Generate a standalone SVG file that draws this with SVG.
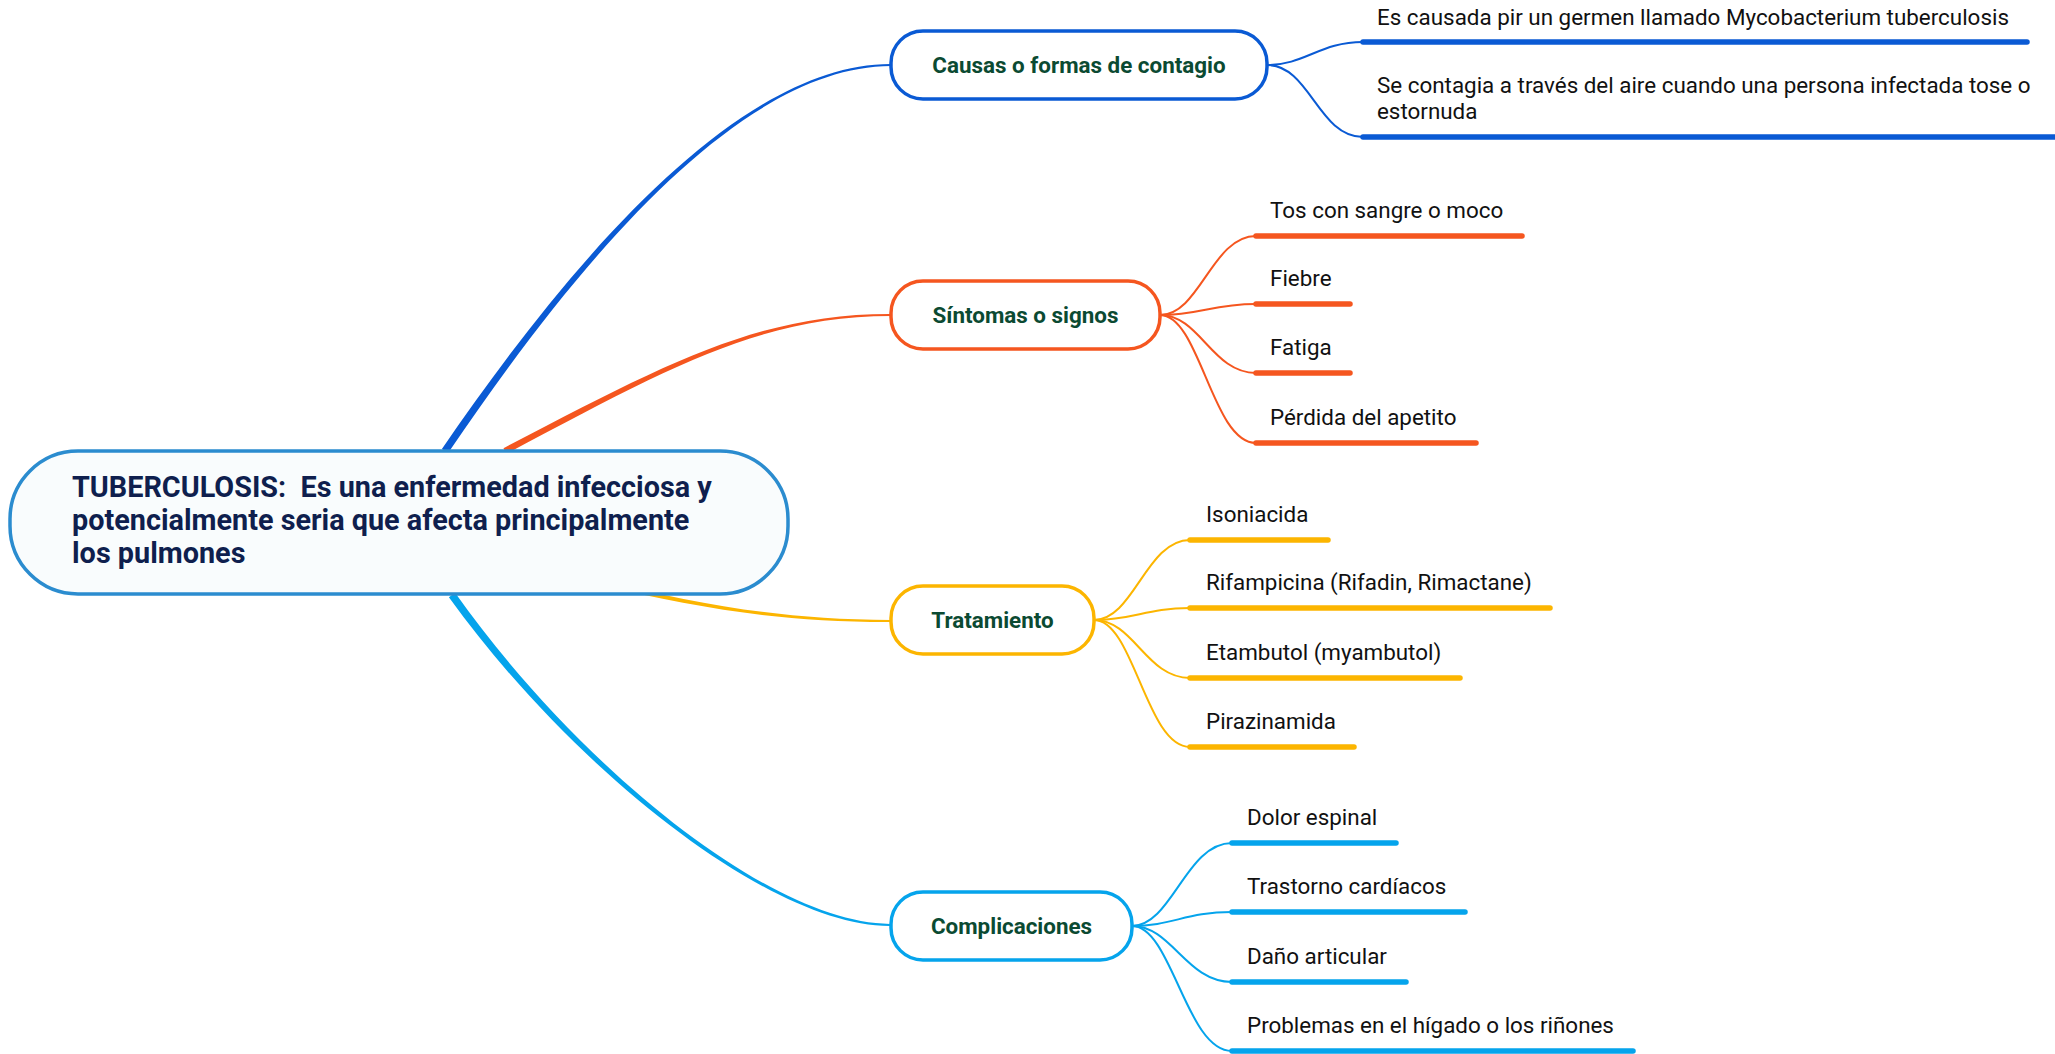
<svg xmlns="http://www.w3.org/2000/svg" width="2055" height="1054" viewBox="0 0 2055 1054">
<style>
.bg{fill:#ffffff}
.root{fill:#f9fcfd;stroke:#2b8ccf;stroke-width:3.5}
.node{fill:#ffffff;stroke-width:3.5}
.rtext{font-family:Roboto,"Liberation Sans",sans-serif;font-weight:bold;font-size:28.8px;fill:#0f1f4e}
.ntext{font-family:Roboto,"Liberation Sans",sans-serif;font-weight:bold;font-size:22.4px;fill:#0b4a32;text-anchor:middle}
.ltext{font-family:Roboto,"Liberation Sans",sans-serif;font-size:22.4px;fill:#111111}
.sub{fill:none;stroke-width:2}
.ul{fill:none;stroke-width:5.5;stroke-linecap:round}
.blue{stroke:#0a5ad4}
.orange{stroke:#f5561f}
.yellow{stroke:#fcb500}
.sky{stroke:#05a4ec}
</style>
<rect class="bg" x="0" y="0" width="2055" height="1054"/>
<g id="connectors">
  <path fill="#0a5ad4" d="M448.1,453.1 C579.5,258.7 741,66.5 891,66.1 L891,63.9 C741,63.5 574.5,255.3 441.9,448.9 Z"/>
  <path fill="#f5561f" d="M506.5,453.8 C671.2,366.3 761,316.5 891,316.1 L891,313.9 C761,313.5 668.8,361.7 503.5,448.2 Z"/>
  <path fill="#fcb500" d="M599.5,585.3 C699.6,608 780,622.3 891,622 L891,620 C780,619.7 700.4,604.1 600.5,580.7 Z"/>
  <path fill="#05a4ec" d="M448.9,597.2 C571.6,767.7 770,926.5 890,926.1 L890,923.9 C770,923.5 576.4,764.3 455.1,592.8 Z"/>

  <path class="sub blue" d="M1267,65 C1305,65 1320,42 1363,42"/>
  <path class="sub blue" d="M1267,65 C1310,65 1318,137 1363,137"/>
  <path class="ul blue" d="M1363,42 H2027"/>
  <path class="ul blue" d="M1363,137 H2060"/>

  <path class="sub orange" d="M1160,315 C1200,315 1212,236 1256,236"/>
  <path class="sub orange" d="M1160,315 C1200,315 1212,304 1256,304"/>
  <path class="sub orange" d="M1160,315 C1200,315 1212,373 1256,373"/>
  <path class="sub orange" d="M1160,315 C1200,315 1212,443 1256,443"/>
  <path class="ul orange" d="M1256,236 H1522"/>
  <path class="ul orange" d="M1256,304 H1350"/>
  <path class="ul orange" d="M1256,373 H1350"/>
  <path class="ul orange" d="M1256,443 H1476"/>

  <path class="sub yellow" d="M1094,620 C1134,620 1146,540 1190,540"/>
  <path class="sub yellow" d="M1094,620 C1134,620 1146,608 1190,608"/>
  <path class="sub yellow" d="M1094,620 C1134,620 1146,678 1190,678"/>
  <path class="sub yellow" d="M1094,620 C1134,620 1146,747 1190,747"/>
  <path class="ul yellow" d="M1190,540 H1328"/>
  <path class="ul yellow" d="M1190,608 H1550"/>
  <path class="ul yellow" d="M1190,678 H1460"/>
  <path class="ul yellow" d="M1190,747 H1354"/>

  <path class="sub sky" d="M1132,926 C1172,926 1186,843 1232,843"/>
  <path class="sub sky" d="M1132,926 C1172,926 1186,912 1232,912"/>
  <path class="sub sky" d="M1132,926 C1172,926 1186,982 1232,982"/>
  <path class="sub sky" d="M1132,926 C1172,926 1186,1051 1232,1051"/>
  <path class="ul sky" d="M1232,843 H1396"/>
  <path class="ul sky" d="M1232,912 H1465"/>
  <path class="ul sky" d="M1232,982 H1406"/>
  <path class="ul sky" d="M1232,1051 H1633"/>
</g>

<g id="root">
  <rect class="root" x="10" y="451" width="778" height="143" rx="68" ry="68"/>
  <text class="rtext" x="72" y="497" xml:space="preserve">TUBERCULOSIS:  Es una enfermedad infecciosa y</text>
  <text class="rtext" x="72" y="530">potencialmente seria que afecta principalmente</text>
  <text class="rtext" x="72" y="563">los pulmones</text>
</g>

<g id="causas">
  <rect class="node blue" x="891" y="31" width="376" height="68" rx="32" ry="32"/>
  <text class="ntext" x="1079" y="73">Causas o formas de contagio</text>
</g>
<g id="sintomas">
  <rect class="node orange" x="891" y="281" width="269" height="68" rx="32" ry="32"/>
  <text class="ntext" x="1025.5" y="323">Síntomas o signos</text>
</g>
<g id="tratamiento">
  <rect class="node yellow" x="891" y="586" width="203" height="68" rx="32" ry="32"/>
  <text class="ntext" x="992.5" y="628">Tratamiento</text>
</g>
<g id="complicaciones">
  <rect class="node sky" x="891" y="892" width="241" height="68" rx="32" ry="32"/>
  <text class="ntext" x="1011.5" y="934">Complicaciones</text>
</g>

<g id="leaf-causa-1"><text class="ltext" x="1377" y="25">Es causada pir un germen llamado Mycobacterium tuberculosis</text></g>
<g id="leaf-causa-2"><text class="ltext" x="1377" y="93">Se contagia a través del aire cuando una persona infectada tose o</text><text class="ltext" x="1377" y="119">estornuda</text></g>

<g id="leaf-sint-1"><text class="ltext" x="1270" y="218">Tos con sangre o moco</text></g>
<g id="leaf-sint-2"><text class="ltext" x="1270" y="286">Fiebre</text></g>
<g id="leaf-sint-3"><text class="ltext" x="1270" y="355">Fatiga</text></g>
<g id="leaf-sint-4"><text class="ltext" x="1270" y="425">Pérdida del apetito</text></g>

<g id="leaf-trat-1"><text class="ltext" x="1206" y="522">Isoniacida</text></g>
<g id="leaf-trat-2"><text class="ltext" x="1206" y="590">Rifampicina (Rifadin, Rimactane)</text></g>
<g id="leaf-trat-3"><text class="ltext" x="1206" y="660">Etambutol (myambutol)</text></g>
<g id="leaf-trat-4"><text class="ltext" x="1206" y="729">Pirazinamida</text></g>

<g id="leaf-comp-1"><text class="ltext" x="1247" y="825">Dolor espinal</text></g>
<g id="leaf-comp-2"><text class="ltext" x="1247" y="894">Trastorno cardíacos</text></g>
<g id="leaf-comp-3"><text class="ltext" x="1247" y="964">Daño articular</text></g>
<g id="leaf-comp-4"><text class="ltext" x="1247" y="1033">Problemas en el hígado o los riñones</text></g>
</svg>
